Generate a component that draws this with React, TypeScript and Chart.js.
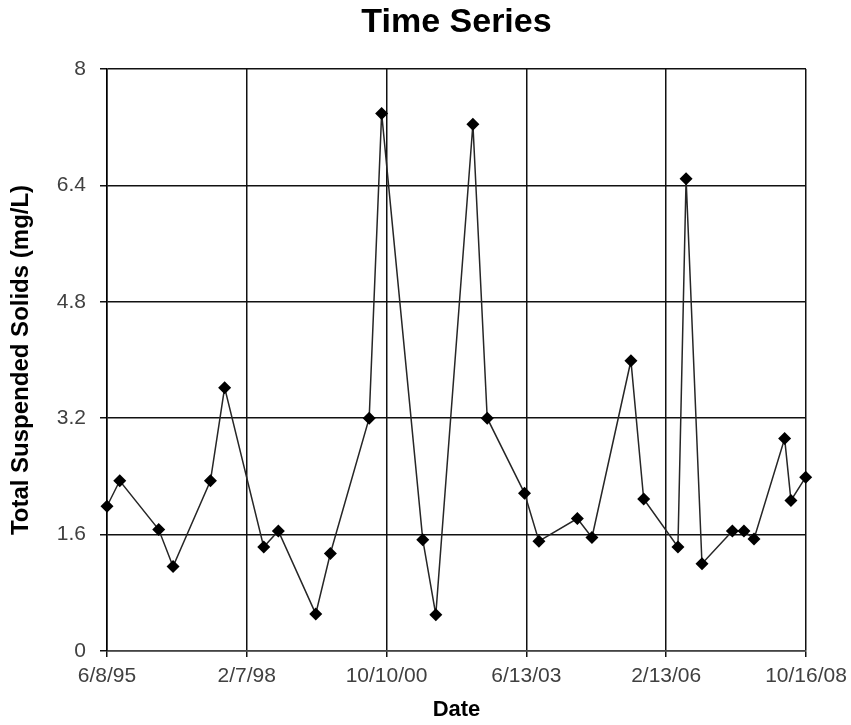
import React, { useEffect, useRef } from "react";
import { Chart, registerables } from "chart.js";

Chart.register(...registerables);

const sampleDates = [
  "1995-06-08", "1995-09-05", "1996-06-03", "1996-09-11", "1997-05-30", "1997-09-06",
  "1998-06-06", "1998-09-16", "1999-06-04", "1999-09-14", "2000-06-11", "2000-09-06",
  "2001-06-20", "2001-09-19", "2002-06-05", "2002-09-13", "2003-05-31", "2003-09-09",
  "2004-06-03", "2004-09-13", "2005-06-12", "2005-09-09", "2006-05-06", "2006-07-02",
  "2006-10-21", "2007-05-21", "2007-08-10", "2007-10-19", "2008-05-20", "2008-07-03",
  "2008-10-14",
];
const tssValues = [
  1.99, 2.34, 1.67, 1.16, 2.34, 3.62,
  1.43, 1.65, 0.51, 1.34, 3.2, 7.39,
  1.53, 0.5, 7.24, 3.2, 2.17, 1.51,
  1.82, 1.56, 3.99, 2.09, 1.43, 6.49,
  1.2, 1.65, 1.65, 1.54, 2.92, 2.07,
  2.39,
];
const xTickDates = ["1995-06-08", "1998-02-07", "2000-10-10", "2003-06-13", "2006-02-13", "2008-10-16"];
const yTickValues = [0, 1.6, 3.2, 4.8, 6.4, 8];

const chartTitle = "Time Series";
const xTitle = "Date";
const yTitle = "Total Suspended Solids (mg/L)";

const DAY_MS = 86400000;
const toDay = (s: string) => {
  const [y, m, d] = s.split("-").map(Number);
  return Date.UTC(y, m - 1, d) / DAY_MS;
};
const fmtDay = (day: number) => {
  const dt = new Date(Math.round(day) * DAY_MS);
  const yy = String(dt.getUTCFullYear() % 100).padStart(2, "0");
  return `${dt.getUTCMonth() + 1}/${dt.getUTCDate()}/${yy}`;
};

const FONT = "'Liberation Sans', Arial, Helvetica, sans-serif";

export default function App() {
  const ref = useRef<HTMLCanvasElement | null>(null);

  useEffect(() => {
    if (!ref.current) return;
    const points = sampleDates.map((d, i) => ({ x: toDay(d), y: tssValues[i] }));
    const xTicks = xTickDates.map(toDay);
    const chart = new Chart(ref.current, {
      type: "line",
      data: {
        datasets: [
          {
            data: points,
            borderColor: "#262626",
            borderWidth: 1.5,
            pointStyle: "rectRot",
            pointRadius: 6.5,
            pointBackgroundColor: "#000000",
            pointBorderColor: "#000000",
            pointBorderWidth: 0,
            tension: 0,
            clip: false as any,
          },
        ],
      },
      options: {
        animation: false,
        responsive: false,
        layout: { padding: { left: 0, right: 45, top: 0, bottom: 0 } },
        plugins: {
          legend: { display: false },
          tooltip: { enabled: false },
          title: {
            display: true,
            text: chartTitle,
            fullSize: false,
            color: "#000000",
            font: { family: FONT, size: 34, weight: "bold" },
            padding: { top: 2.5, bottom: 25.7 },
          },
        },
        scales: {
          x: {
            type: "linear",
            min: xTicks[0],
            max: xTicks[xTicks.length - 1],
            afterBuildTicks: (scale: any) => {
              scale.ticks = xTicks.map((v) => ({ value: v }));
            },
            afterFit: (scale: any) => {
              scale.height = 74;
              scale.paddingLeft = 0;
              scale.paddingRight = 0;
            },
            ticks: {
              autoSkip: false,
              maxRotation: 0,
              padding: 7,
              color: "#404040",
              font: { family: FONT, size: 21 },
              callback: (v: any) => fmtDay(Number(v)),
            },
            grid: {
              color: "#111111",
              lineWidth: 1.5,
              drawTicks: true,
              tickLength: 6,
            },
            border: { display: true, color: "#444444", width: 1.5 },
            title: {
              display: true,
              text: xTitle,
              color: "#000000",
              font: { family: FONT, size: 22, weight: "bold" },
              padding: { top: 0, bottom: 1.4 },
            },
          },
          y: {
            type: "linear",
            min: 0,
            max: 8,
            afterBuildTicks: (scale: any) => {
              scale.ticks = yTickValues.map((v) => ({ value: v }));
            },
            afterFit: (scale: any) => {
              scale.width = 107;
              scale.paddingTop = 0;
              scale.paddingBottom = 0;
            },
            ticks: {
              padding: 14,
              color: "#404040",
              font: { family: FONT, size: 21 },
              callback: (v: any) => String(Number(Number(v).toFixed(1))),
            },
            grid: {
              color: "#111111",
              lineWidth: 1.5,
              drawTicks: true,
              tickLength: 7,
            },
            border: { display: true, color: "#000000", width: 1.5 },
            title: {
              display: true,
              text: yTitle,
              color: "#000000",
              font: { family: FONT, size: 24, weight: "bold" },
              padding: { top: 6.5, bottom: 0 },
            },
          },
        },
      },
    });
    return () => chart.destroy();
  }, []);

  return (
    <div style={{ position: "absolute", left: 0, top: 0, width: 851, height: 725, background: "#ffffff" }}>
      <canvas ref={ref} width={851} height={725} style={{ display: "block", width: 851, height: 725 }} />
    </div>
  );
}
